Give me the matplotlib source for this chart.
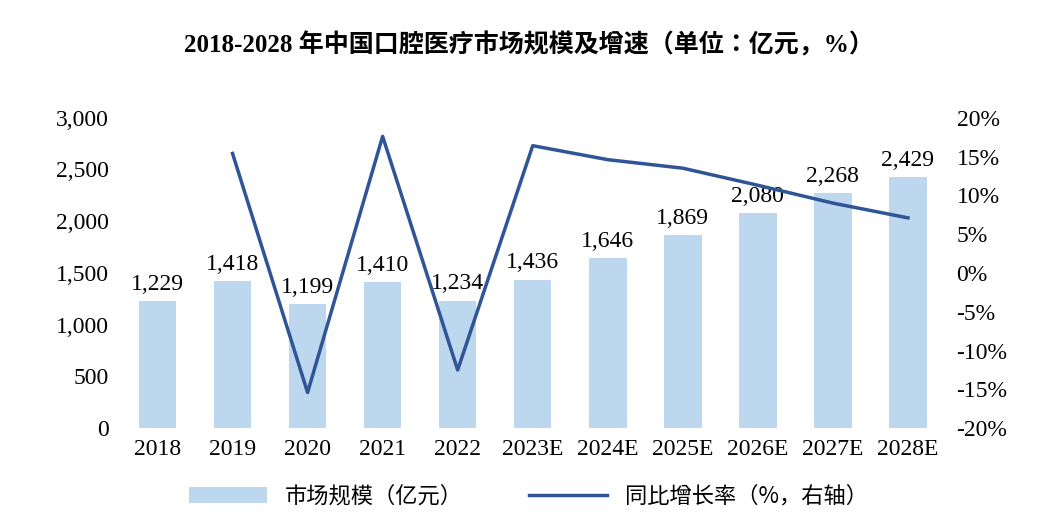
import glob
import matplotlib.pyplot as plt
from matplotlib import font_manager
from matplotlib.ticker import FuncFormatter

years = ['2018', '2019', '2020', '2021', '2022', '2023E', '2024E', '2025E', '2026E', '2027E', '2028E']
market = [1229, 1418, 1199, 1410, 1234, 1436, 1646, 1869, 2080, 2268, 2429]
growth = [None, 15.4, -15.4, 17.6, -12.5, 16.4, 14.6, 13.5, 11.3, 9.0, 7.1]

serif = 'Liberation Serif'
# register any CJK font files so matplotlib can find them
for path in glob.glob('/usr/share/fonts/**/*CJK*', recursive=True) + \
        glob.glob('/usr/local/share/fonts/**/*CJK*', recursive=True):
    try:
        font_manager.fontManager.addfont(path)
    except Exception:
        pass
names = sorted({f.name for f in font_manager.fontManager.ttflist})
cjk_list = [n for n in names if 'CJK' in n]
cjk = next((n for n in cjk_list if 'SC' in n), cjk_list[0] if cjk_list else 'Noto Sans CJK SC')

fig = plt.figure(figsize=(10.57, 5.28), dpi=100)
ax = fig.add_axes([0.1135, 0.189, 0.781, 0.588])
x = list(range(len(years)))
bars = ax.bar(x, market, width=0.5, color='#BDD7EE')
for xi, v in zip(x, market):
    ax.text(xi, v + 60, f'{v:,}', ha='center', va='bottom', fontsize=17, family=serif)
ax.set_ylim(0, 3000)
ax.set_xlim(-0.5, len(years) - 0.5)
ax.set_yticks(range(0, 3001, 500))
ax.yaxis.set_major_formatter(FuncFormatter(lambda v, p: f'{int(v):,}'))
ax.set_xticks(x)
ax.set_xticklabels(years)
for s in ax.spines.values():
    s.set_visible(False)
ax.tick_params(length=0, labelsize=17, pad=8)
for lab in ax.get_xticklabels() + ax.get_yticklabels():
    lab.set_family(serif)

ax2 = ax.twinx()
gx = [xi for xi, g in zip(x, growth) if g is not None]
gy = [g for g in growth if g is not None]
line, = ax2.plot(gx, gy, color='#2F5597', lw=2.5)
ax2.set_ylim(-20, 20)
ax2.set_yticks(range(-20, 21, 5))
ax2.yaxis.set_major_formatter(FuncFormatter(lambda v, p: f'{int(v)}%'))
for s in ax2.spines.values():
    s.set_visible(False)
ax2.tick_params(length=0, labelsize=17, pad=8)
for lab in ax2.get_yticklabels():
    lab.set_family(serif)

fig.text(0.5, 0.9, '2018-2028 年中国口腔医疗市场规模及增速（单位：亿元，%）',
         ha='center', fontsize=18, fontweight='bold', family=[serif, cjk])
fig.legend([bars, line], ['市场规模（亿元）', '同比增长率（%，右轴）'], loc='lower center',
           bbox_to_anchor=(0.5, 0.0), ncol=2, frameon=False,
           prop={'family': cjk, 'size': 16}, handlelength=3.5, columnspacing=3)
fig.savefig('out.png', dpi=100)
